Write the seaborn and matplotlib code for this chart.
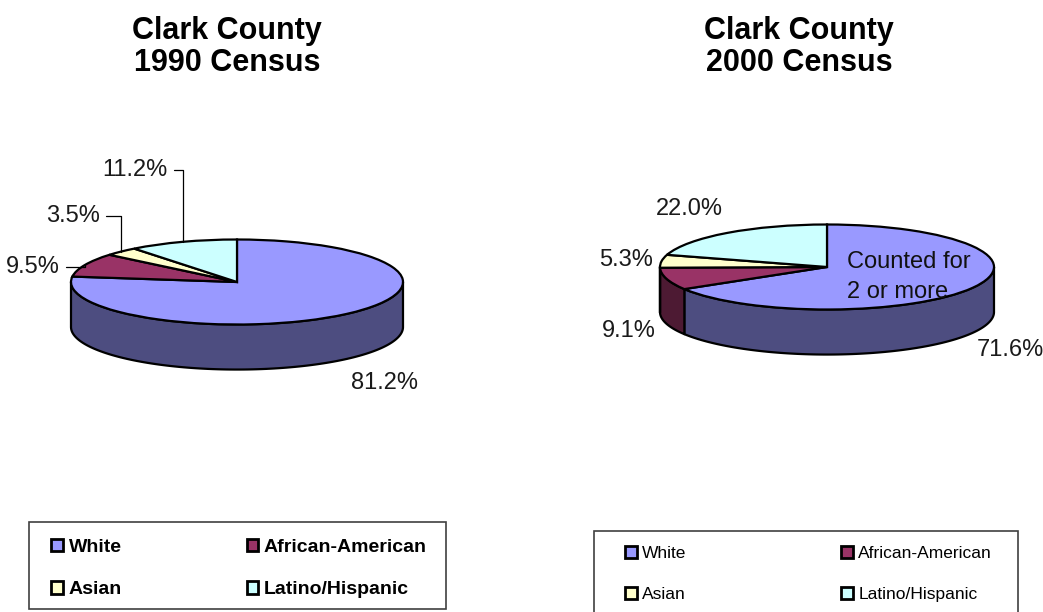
import numpy as np
import matplotlib
matplotlib.use("Agg")
import matplotlib.pyplot as plt
import seaborn as sns
from matplotlib import font_manager
from matplotlib.patches import Patch, Rectangle

# ---------------- data ----------------
categories = ["White", "African-American", "Asian", "Latino/Hispanic"]
pct_1990 = [81.2, 9.5, 3.5, 11.2]
pct_2000 = [71.6, 9.1, 5.3, 22.0]
title_1990 = "Clark County\n1990 Census"
title_2000 = "Clark County\n2000 Census"
note_2000 = "Counted for\n2 or more"

top_colors = ["#9999FF", "#993366", "#FFFFCC", "#CCFFFF"]
side_colors = ["#4D4D80", "#4D1A33", "#80806A", "#668080"]

# ---------------- style ----------------
sns.set_theme(style="white")
names = {f.name for f in font_manager.fontManager.ttflist}
HAS_NARROW = "Liberation Sans Narrow" in names
plt.rcParams["font.family"] = ["Liberation Sans", "DejaVu Sans"]
plt.rcParams["text.color"] = "black"

if HAS_NARROW:
    lab_font = dict(family=["Liberation Sans Narrow", "Liberation Sans"], size=20)
    leg2_font = dict(family=["Liberation Sans Narrow", "Liberation Sans"], size=15)
else:
    lab_font = dict(family=["Liberation Sans", "DejaVu Sans"], size=17)
    leg2_font = dict(family=["Liberation Sans", "DejaVu Sans"], size=12.5)
leg1_font = dict(family=["Liberation Sans", "DejaVu Sans"], size=14, weight="bold")
title_font = dict(family=["Liberation Sans", "DejaVu Sans"], size=22, weight="bold")

W, H = 1043, 612
fig = plt.figure(figsize=(W / 100, H / 100), dpi=100)
fig.patch.set_facecolor("white")

DEPTH = 1.06  # side wall height, in units of the vertical radius


def make_axes(cx, cy, a, b, xr=1.3, ytop=1.6, ybot=-2.6):
    left = cx - xr * a
    top = cy - ytop * b
    bottom = cy - ybot * b
    ax = fig.add_axes([left / W, 1 - bottom / H, 2 * xr * a / W, (bottom - top) / H])

    def to_data(px, py):
        return ((px - cx) / a, (cy - py) / b)

    ax._limits = (-xr, xr, ybot, ytop)
    return ax, to_data


def pie3d(ax, values):
    wedges, _ = ax.pie(values, colors=top_colors, startangle=90, counterclock=False,
                       radius=1, wedgeprops=dict(edgecolor="black", linewidth=1.6, zorder=3))
    for w, sc in zip(wedges, side_colors):
        t1, t2 = w.theta1, w.theta2
        for k in range(-2, 3):
            lo = max(t1, 180 + 360 * k)
            hi = min(t2, 360 + 360 * k)
            if hi > lo:
                th = np.radians(np.linspace(lo, hi, 120))
                xs = np.concatenate([np.cos(th), np.cos(th[::-1])])
                ys = np.concatenate([np.sin(th), np.sin(th[::-1]) - DEPTH])
                ax.fill(xs, ys, facecolor=sc, edgecolor="black", linewidth=1.6,
                        zorder=2, joinstyle="round")
    x0, x1, y0, y1 = ax._limits
    ax.set_aspect("auto")
    ax.set_xlim(x0, x1)
    ax.set_ylim(y0, y1)
    ax.axis("off")
    return wedges


def fmt(v):
    return f"{v:.1f}%"


LAB_COLOR = "#1a1a1a"

# ---------------- 1990 pie ----------------
ax1, d1 = make_axes(237, 282, 166, 42.5)
w1 = pie3d(ax1, pct_1990)
leader_text_px = {3: (168, 170), 2: (100, 216), 1: (60, 267)}
for i, (px, py) in leader_text_px.items():
    mid = np.radians((w1[i].theta1 + w1[i].theta2) / 2)
    ax1.annotate(fmt(pct_1990[i]), xy=(np.cos(mid), np.sin(mid)), xytext=d1(px, py),
                 ha="right", va="center", color=LAB_COLOR,
                 arrowprops=dict(arrowstyle="-", color="black", lw=0.9, shrinkA=2, shrinkB=0,
                                 relpos=(1, 0.5),
                                 connectionstyle="angle,angleA=0,angleB=90,rad=0"),
                 zorder=5, **lab_font)
ax1.text(*d1(384, 383), fmt(pct_1990[0]), ha="center", va="center", color=LAB_COLOR,
         **lab_font)

# ---------------- 2000 pie ----------------
ax2, d2 = make_axes(827, 267, 167, 42.5)
w2 = pie3d(ax2, pct_2000)
ax2.text(*d2(689, 209), fmt(pct_2000[3]), ha="center", va="center", color=LAB_COLOR,
         **lab_font)
ax2.text(*d2(653, 260), fmt(pct_2000[2]), ha="right", va="center", color=LAB_COLOR,
         **lab_font)
ax2.text(*d2(656, 331), fmt(pct_2000[1]), ha="right", va="center", color=LAB_COLOR,
         **lab_font)
ax2.text(*d2(1010, 350), fmt(pct_2000[0]), ha="center", va="center", color=LAB_COLOR,
         **lab_font)
ax2.text(*d2(847, 277), note_2000, ha="left", va="center", color="#111111",
         linespacing=1.5, zorder=6, **lab_font)

# ---------------- titles ----------------
fig.text(227 / W, 1 - 16 / H, title_1990, ha="center", va="top", linespacing=1.1,
         color="black", **title_font)
fig.text(799 / W, 1 - 16 / H, title_2000, ha="center", va="top", linespacing=1.1,
         color="black", **title_font)


# ---------------- legends ----------------
def legend_box(x0, y0, x1, y1, cl, cr, row_top, font, spacing, hsize):
    fig.add_artist(Rectangle((x0 / W, 1 - y1 / H), (x1 - x0) / W, (y1 - y0) / H,
                             transform=fig.transFigure, fill=False,
                             edgecolor="#404040", linewidth=1.2))
    handles = [Patch(facecolor=c, edgecolor="black", linewidth=2) for c in top_colors]
    order = [0, 2, 1, 3]
    leg = fig.legend([handles[i] for i in order], [categories[i] for i in order], ncol=2,
                     mode="expand", loc="upper left",
                     bbox_to_anchor=(cl / W, 1 - row_top / H, (cr - cl) / W, 0),
                     frameon=False, borderaxespad=0, borderpad=0, labelspacing=spacing,
                     handlelength=hsize, handleheight=hsize, handletextpad=0.3,
                     prop=font)
    for t in leg.get_texts():
        t.set_color("black")


legend_box(29, 522, 446, 609, 51, 427, 539, leg1_font, 1.3, 0.6)
legend_box(594, 531, 1018, 640, 625, 992, 546, leg2_font, 1.46, 0.7)

fig.savefig("out.png", dpi=100, facecolor="white")
